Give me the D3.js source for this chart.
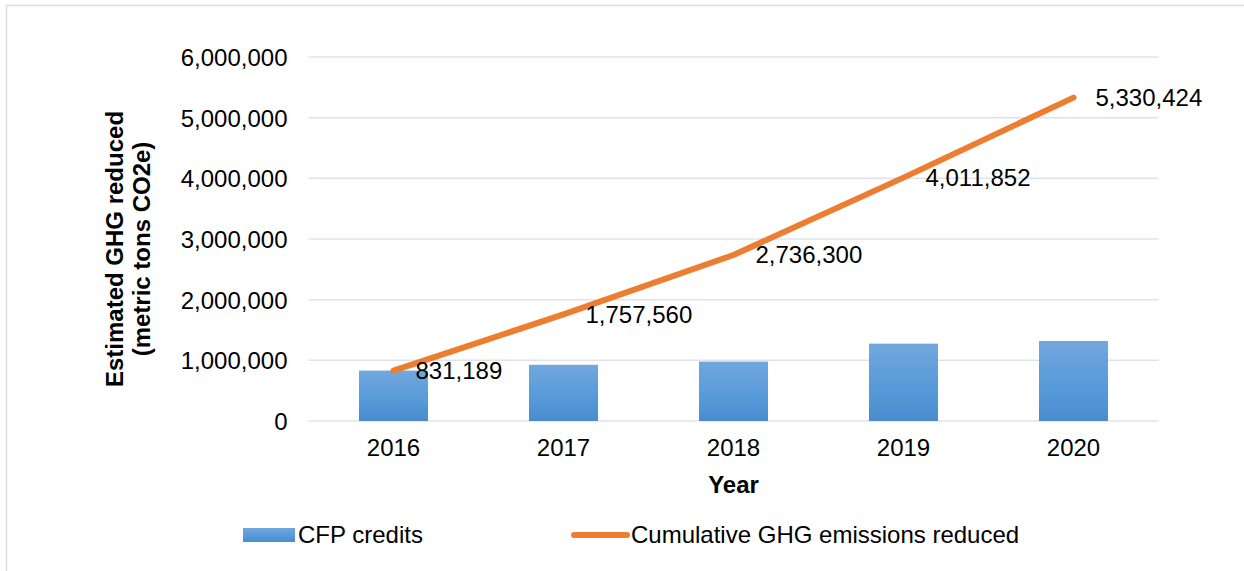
<!DOCTYPE html>
<html>
<head>
<meta charset="utf-8">
<script src="https://cdn.jsdelivr.net/npm/d3@7"></script>
<style>
  body { margin: 0; background: #fff; }
  text { font-family: "Liberation Sans", Arial, sans-serif; fill: #000; }
</style>
</head>
<body>
<svg id="chart" width="1244" height="571"></svg>
<script>
// data
const years = ['2016', '2017', '2018', '2019', '2020'];
const cfpCredits = [831189, 926371, 978740, 1275552, 1318572];
const cumulative = [831189, 1757560, 2736300, 4011852, 5330424];
const yTicks = [0, 1000000, 2000000, 3000000, 4000000, 5000000, 6000000];
const seriesNames = ['CFP credits', 'Cumulative GHG emissions reduced'];

const svg = d3.select('#chart');
const fmt = d3.format(',');

// outer frame (only top + left visible in the reference)
svg.append('path')
  .attr('d', 'M6.5,571 L6.5,5.5 L1244,5.5')
  .attr('fill', 'none')
  .attr('stroke', '#dcdfe5')
  .attr('stroke-width', 1.5);

const plot = { left: 308.5, right: 1158.5, top: 57, bottom: 421 };

const x = d3.scaleBand().domain(years).range([plot.left, plot.right]).paddingInner(0.594).paddingOuter(0.297);
const xc = d => x(d) + x.bandwidth() / 2;
const y = d3.scaleLinear().domain([0, 6000000]).range([plot.bottom, plot.top]);

const defs = svg.append('defs');
const grad = defs.append('linearGradient').attr('id', 'barGrad').attr('x1', 0).attr('y1', 0).attr('x2', 0).attr('y2', 1);
grad.append('stop').attr('offset', '0%').attr('stop-color', '#72a7dd');
grad.append('stop').attr('offset', '60%').attr('stop-color', '#569ad9');
grad.append('stop').attr('offset', '100%').attr('stop-color', '#4a8bcd');

// gridlines
svg.append('g').selectAll('line').data(yTicks).join('line')
  .attr('x1', plot.left).attr('x2', plot.right)
  .attr('y1', d => y(d)).attr('y2', d => y(d))
  .attr('stroke', '#dfe3e9').attr('stroke-width', 1.5);

// y axis labels
const yAxis = svg.append('g')
  .attr('transform', `translate(${plot.left},0)`)
  .call(d3.axisLeft(y).tickValues(yTicks).tickFormat(fmt).tickSize(0).tickPadding(21));
yAxis.select('.domain').remove();
yAxis.selectAll('text').style('font-size', '24px').attr('fill', '#000').attr('dy', '0.35em');

// x axis labels
const xAxis = svg.append('g')
  .attr('transform', `translate(0,${plot.bottom})`)
  .call(d3.axisBottom(x).tickSize(0).tickPadding(18));
xAxis.select('.domain').remove();
xAxis.selectAll('text').style('font-size', '24px').attr('fill', '#000');

// bars
svg.append('g').selectAll('rect').data(years).join('rect')
  .attr('x', d => x(d))
  .attr('width', x.bandwidth())
  .attr('y', (d, i) => y(cfpCredits[i]))
  .attr('height', (d, i) => y(0) - y(cfpCredits[i]))
  .attr('fill', 'url(#barGrad)');

// cumulative line
const line = d3.line().x((d, i) => xc(years[i])).y(d => y(d));
svg.append('path')
  .datum(cumulative)
  .attr('d', line)
  .attr('fill', 'none')
  .attr('stroke', '#ed7d31')
  .attr('stroke-width', 6)
  .attr('stroke-linecap', 'round')
  .attr('stroke-linejoin', 'round');

// data labels to the right of each point
svg.append('g').selectAll('text').data(cumulative).join('text')
  .attr('x', (d, i) => xc(years[i]) + 22)
  .attr('y', d => y(d))
  .attr('dy', '0.35em')
  .style('font-size', '24px')
  .text(d => fmt(d));

// axis titles
svg.append('text')
  .attr('x', (plot.left + plot.right) / 2)
  .attr('y', 493)
  .attr('text-anchor', 'middle')
  .style('font-size', '24px')
  .style('font-weight', 'bold')
  .text('Year');

const yTitle = svg.append('text')
  .attr('transform', 'translate(123,249) rotate(-90)')
  .attr('text-anchor', 'middle')
  .style('font-size', '24px')
  .style('font-weight', 'bold');
yTitle.append('tspan').attr('x', 0).attr('y', 0).text('Estimated GHG reduced');
yTitle.append('tspan').attr('x', 0).attr('y', 27).text('(metric tons CO2e)');

// legend
const lg = svg.append('g');
lg.append('rect').attr('x', 243).attr('y', 528).attr('width', 52).attr('height', 14).attr('fill', 'url(#barGrad)');
lg.append('text').attr('x', 298).attr('y', 535).attr('dy', '0.35em').style('font-size', '24px').text(seriesNames[0]);
lg.append('line').attr('x1', 574).attr('x2', 627).attr('y1', 535).attr('y2', 535)
  .attr('stroke', '#ed7d31').attr('stroke-width', 6).attr('stroke-linecap', 'round');
lg.append('text').attr('x', 631).attr('y', 535).attr('dy', '0.35em').style('font-size', '24px').text(seriesNames[1]);
</script>
</body>
</html>
